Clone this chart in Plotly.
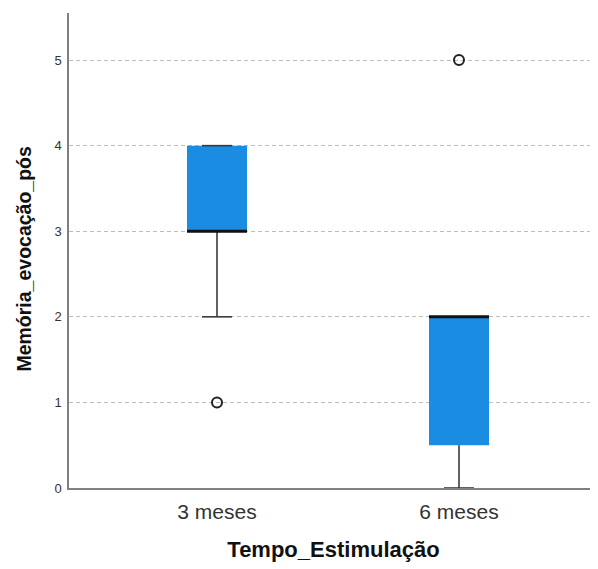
import plotly.graph_objects as go

categories = ["3 meses", "6 meses"]
lower_whisker = [2, 0]
q1 = [3, 0.5]
median = [3, 2]
q3 = [4, 2]
upper_whisker = [4, 2]
outlier_cat = ["3 meses", "6 meses"]
outlier_val = [1, 5]
y_ticks = [0, 1, 2, 3, 4, 5]

BOX_W = 0.248
CAP_W = 0.124
pos = {c: i for i, c in enumerate(categories)}

fig = go.Figure()

# boxes (IQR)
fig.add_trace(go.Bar(
    x=[pos[c] for c in categories], base=q1,
    y=[b - a for a, b in zip(q1, q3)],
    width=BOX_W, marker=dict(color="#1a8de3", line=dict(width=0)),
    hoverinfo="skip", showlegend=False))

# whiskers
wx, wy = [], []
for c, lo, a, b, hi in zip(categories, lower_whisker, q1, q3, upper_whisker):
    p = pos[c]
    wx += [p, p, None, p, p, None]
    wy += [lo, a, None, b, hi, None]
    wx += [p - CAP_W / 2, p + CAP_W / 2, None, p - CAP_W / 2, p + CAP_W / 2, None]
    wy += [lo, lo, None, hi, hi, None]
fig.add_trace(go.Scatter(x=wx, y=wy, mode="lines",
                         line=dict(color="#3a3a3a", width=1.6),
                         hoverinfo="skip", showlegend=False))

# medians
mx, my = [], []
for c, m in zip(categories, median):
    p = pos[c]
    mx += [p - BOX_W / 2, p + BOX_W / 2, None]
    my += [m, m, None]
fig.add_trace(go.Scatter(x=mx, y=my, mode="lines",
                         line=dict(color="#111111", width=3),
                         hoverinfo="skip", showlegend=False))

# outliers
fig.add_trace(go.Scatter(x=[pos[c] for c in outlier_cat], y=outlier_val,
                         mode="markers",
                         marker=dict(symbol="circle-open", size=10,
                                     line=dict(width=2, color="#222222"),
                                     color="#222222"),
                         showlegend=False))

fig.update_layout(
    width=590, height=561,
    margin=dict(l=61, r=0, t=5, b=81),
    paper_bgcolor="white", plot_bgcolor="white",
    font=dict(family="Liberation Sans, Arial, sans-serif", color="#222"),
    showlegend=False,
    xaxis=dict(
        range=[-0.6116, 1.5744],
        tickvals=[0, 1], ticktext=categories,
        tickfont=dict(size=21, color="#333"),
        showgrid=False, zeroline=False,
        showline=True, linecolor="#808080", linewidth=1.5,
        ticks="", ticklabelstandoff=4,
        title=dict(text="<b>Tempo_Estimulação</b>", font=dict(size=22, color="#111"),
                   standoff=20),
    ),
    yaxis=dict(
        range=[0, 5.55],
        tickvals=y_ticks,
        tickfont=dict(size=13, color="#333"),
        showgrid=True, gridcolor="#bdbdbd", griddash="4px,3px", gridwidth=1,
        zeroline=False,
        showline=True, linecolor="#808080", linewidth=1.5,
        ticks="", ticklabelstandoff=3,
    ),
    annotations=[dict(
        text="<b>Memória_evocação_pós</b>", textangle=-90,
        xref="paper", yref="paper", x=0, y=0.483,
        xanchor="center", yanchor="middle", xshift=-45,
        showarrow=False, font=dict(size=19.5, color="#111"))],
)

fig.write_html("out.html")
